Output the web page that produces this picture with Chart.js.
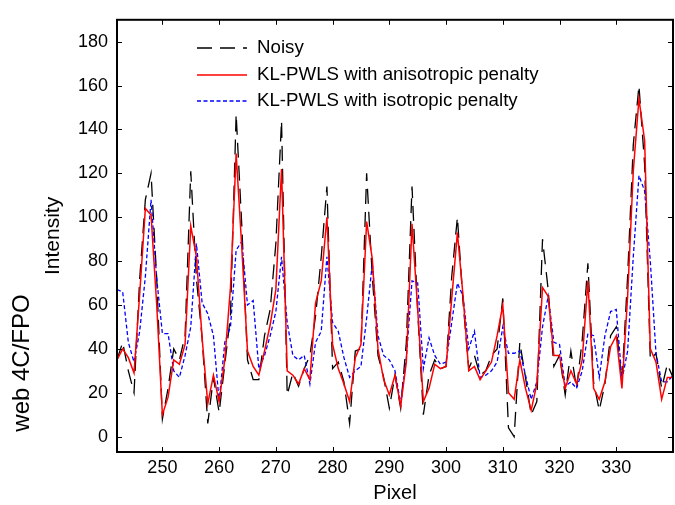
<!DOCTYPE html>
<html>
<head>
<meta charset="utf-8">
<script src="https://cdn.jsdelivr.net/npm/chart.js@4"></script>
<style>
  html, body { margin: 0; padding: 0; background: #fff; }
  #wrap { width: 675px; height: 505px; }
</style>
</head>
<body>
<div id="wrap"><canvas id="plot" width="675" height="505"></canvas></div>
<script>
const pixels = [
  242, 243, 244, 245, 246, 247, 248, 249, 250, 251, 252, 253, 254, 255, 256, 257, 258, 259, 260,
  261, 262, 263, 264, 265, 266, 267, 268, 269, 270, 271, 272, 273, 274, 275, 276, 277, 278, 279, 280,
  281, 282, 283, 284, 285, 286, 287, 288, 289, 290, 291, 292, 293, 294, 295, 296, 297, 298, 299, 300,
  301, 302, 303, 304, 305, 306, 307, 308, 309, 310, 311, 312, 313, 314, 315, 316, 317, 318, 319, 320,
  321, 322, 323, 324, 325, 326, 327, 328, 329, 330, 331, 332, 333, 334, 335, 336, 337, 338, 339, 340
];

const noisy = [
  35, 43, 30, 20, 72, 108, 120, 72, 8, 22, 40, 35, 46, 121, 72, 45, 6, 27, 11,
  33, 55, 147, 96, 35, 26, 26, 46, 58, 88, 144, 19, 29, 23, 31, 37, 55, 82, 114, 31,
  34, 25, 6, 39, 40, 120, 73, 37, 27, 13, 28, 13, 43, 114, 57, 10, 28, 35, 31, 32,
  73, 100, 61, 31, 37, 28, 30, 37, 40, 63, 4, 0, 43, 27, 10, 16, 90, 67, 32, 37,
  19, 39, 22, 44, 79, 25, 12, 24, 46, 50, 25, 73, 133, 160, 124, 35, 38, 22, 33, 27
];

const anisotropic = [
  35, 40, 36, 29, 65, 104, 101, 60, 10, 18, 35, 33, 42, 96, 82, 45, 15, 28, 16,
  35, 68, 129, 86, 39, 32, 28, 39, 51, 67, 122, 30, 28, 24, 31, 26, 61, 71, 100, 42,
  31, 24, 16, 36, 42, 98, 81, 40, 26, 19, 28, 14, 34, 97, 58, 16, 22, 33, 31, 32,
  63, 93, 64, 30, 32, 26, 30, 34, 46, 60, 20, 17, 35, 22, 12, 24, 68, 64, 37, 37,
  22, 30, 24, 35, 71, 22, 17, 25, 41, 46, 22, 64, 121, 154, 135, 40, 34, 17, 27, 27
];

const isotropic = [
  67, 66, 43, 34, 48, 73, 108, 72, 47, 47, 30, 27, 37, 50, 88, 61, 56, 46, 16,
  43, 50, 85, 89, 60, 62, 31, 37, 46, 57, 82, 52, 37, 35, 37, 24, 43, 48, 82, 52,
  48, 36, 27, 30, 32, 54, 79, 46, 37, 35, 30, 15, 36, 71, 70, 31, 45, 37, 33, 34,
  52, 70, 64, 40, 48, 27, 28, 30, 34, 50, 38, 38, 39, 28, 17, 25, 50, 64, 43, 42,
  23, 25, 22, 30, 47, 46, 27, 46, 57, 58, 26, 39, 82, 119, 112, 80, 38, 25, 25, 28
];

const xTicks = [250, 260, 270, 280, 290, 300, 310, 320, 330];
const yTicks = [0, 20, 40, 60, 80, 100, 120, 140, 160, 180];

const seriesLabels = ['Noisy', 'KL-PWLS with anisotropic penalty', 'KL-PWLS with isotropic penalty'];

const FONT = 'Liberation Sans, Arial, Helvetica, sans-serif';

function points(values) {
  return values.map((v, i) => ({ x: pixels[i], y: v }));
}

const legendStyles = [
  { color: '#000000', dash: [15, 8], width: 1.3 },
  { color: '#ff0000', dash: [], width: 1.5 },
  { color: '#0000ff', dash: [4, 2.5], width: 1.3 }
];

const framePlugin = {
  id: 'frame',
  afterDraw(chart) {
    const { ctx, chartArea: a, scales } = chart;
    ctx.save();
    // inward ticks on all four sides
    ctx.strokeStyle = '#000';
    ctx.lineWidth = 1;
    ctx.beginPath();
    xTicks.forEach(v => {
      const px = Math.round(scales.x.getPixelForValue(v)) + 0.5;
      ctx.moveTo(px, a.bottom); ctx.lineTo(px, a.bottom - 5);
      ctx.moveTo(px, a.top); ctx.lineTo(px, a.top + 5);
    });
    yTicks.forEach(v => {
      const py = Math.round(scales.y.getPixelForValue(v)) + 0.5;
      ctx.moveTo(a.left, py); ctx.lineTo(a.left + 5, py);
      ctx.moveTo(a.right, py); ctx.lineTo(a.right - 5, py);
    });
    ctx.stroke();
    // frame
    ctx.lineWidth = 2;
    ctx.strokeRect(a.left, a.top, a.right - a.left, a.bottom - a.top);

    // legend
    ctx.font = '18.7px ' + FONT;
    ctx.textBaseline = 'middle';
    ctx.textAlign = 'left';
    const rows = [48, 75, 101];
    seriesLabels.forEach((label, i) => {
      const st = legendStyles[i];
      ctx.beginPath();
      ctx.strokeStyle = st.color;
      ctx.lineWidth = st.width;
      ctx.setLineDash(st.dash);
      ctx.moveTo(197, rows[i]);
      ctx.lineTo(247, rows[i]);
      ctx.stroke();
      ctx.setLineDash([]);
      ctx.fillStyle = '#000';
      ctx.fillText(label, 257, rows[i]);
    });

    // side watermark
    ctx.translate(22, 363);
    ctx.rotate(-Math.PI / 2);
    ctx.font = '24px ' + FONT;
    ctx.textAlign = 'center';
    ctx.fillStyle = '#000';
    ctx.fillText('web 4C/FPO', 0, 0);
    ctx.restore();
  }
};

new Chart(document.getElementById('plot'), {
  type: 'line',
  data: {
    datasets: [
      {
        label: seriesLabels[1],
        data: points(anisotropic),
        borderColor: '#ff0000',
        borderWidth: 1.5,
        pointRadius: 0,
        tension: 0,
        order: 0
      },
      {
        label: seriesLabels[2],
        data: points(isotropic),
        borderColor: '#0000ff',
        borderWidth: 1.3,
        borderDash: [4, 2.5],
        pointRadius: 0,
        tension: 0,
        order: 1
      },
      {
        label: seriesLabels[0],
        data: points(noisy),
        borderColor: '#000000',
        borderWidth: 1.3,
        borderDash: [15, 8],
        pointRadius: 0,
        tension: 0,
        order: 2
      }
    ]
  },
  options: {
    responsive: false,
    animation: false,
    layout: { padding: { left: 40, top: 15, right: 2, bottom: 0 } },
    plugins: { legend: { display: false }, tooltip: { enabled: false } },
    scales: {
      x: {
        type: 'linear',
        min: 242,
        max: 340,
        afterBuildTicks: s => { s.ticks = xTicks.map(v => ({ value: v })); },
        afterFit: s => { s.height = 53; },
        grid: { display: false, drawTicks: false },
        border: { display: false },
        ticks: { color: '#000', font: { family: FONT, size: 18 }, padding: 5, maxRotation: 0 },
        title: { display: true, text: 'Pixel', color: '#000', font: { family: FONT, size: 20 }, padding: 0 }
      },
      y: {
        min: -7,
        max: 190,
        afterBuildTicks: s => { s.ticks = yTicks.map(v => ({ value: v })); },
        afterFit: s => { s.width = 77; },
        grid: { display: false, drawTicks: false },
        border: { display: false },
        ticks: { color: '#000', font: { family: FONT, size: 18 }, padding: 9 },
        title: { display: true, text: 'Intensity', color: '#000', font: { family: FONT, size: 21 }, padding: { top: 1, bottom: 0 } }
      }
    }
  },
  plugins: [framePlugin]
});
</script>
</body>
</html>
